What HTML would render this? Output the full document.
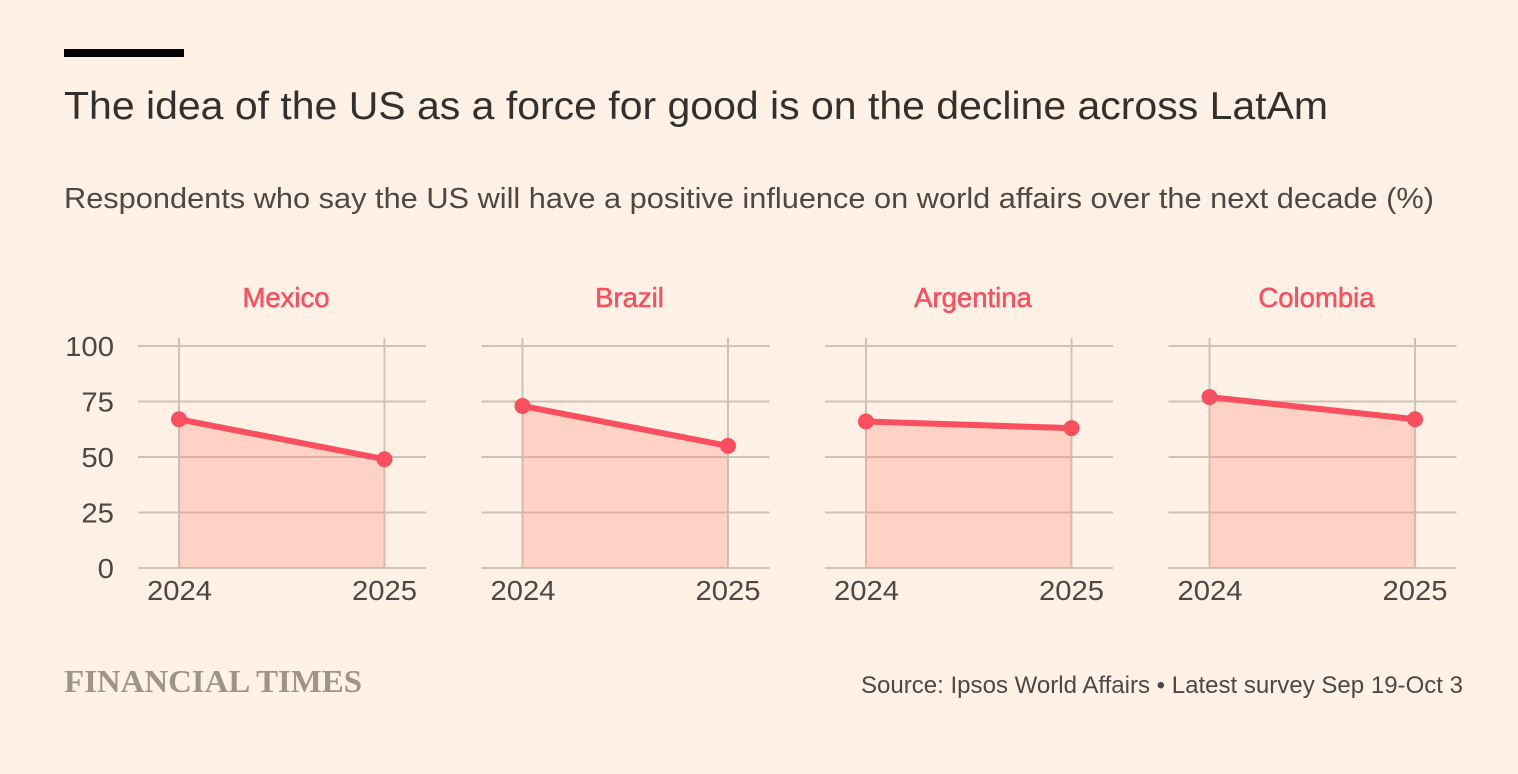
<!DOCTYPE html>
<html lang="en">
<head>
<meta charset="utf-8">
<title>The idea of the US as a force for good is on the decline across LatAm</title>
<style>
html,body{margin:0;padding:0;background:#fff1e5;width:1518px;height:774px;overflow:hidden}
svg{display:block}
text{font-family:"Liberation Sans",sans-serif}
</style>
</head>
<body>
<svg id="chart" xmlns="http://www.w3.org/2000/svg" width="1518" height="774" viewBox="0 0 1518 774">
  <rect x="0" y="0" width="1518" height="774" fill="#fff1e5"/>
  <rect x="64" y="49" width="120" height="8" fill="#000"/>
  <text x="64" y="119" font-size="39" fill="#33302e" textLength="1264" lengthAdjust="spacingAndGlyphs">The idea of the US as a force for good is on the decline across LatAm</text>
  <text x="64" y="208" font-size="29" fill="#4d4845" textLength="1370" lengthAdjust="spacingAndGlyphs">Respondents who say the US will have a positive influence on world affairs over the next decade (%)</text>
  <g id="panels"></g>
  <text x="64" y="692" font-size="31.5" font-weight="700" fill="#9d948a" textLength="298" lengthAdjust="spacingAndGlyphs" style="font-family:'Liberation Serif',serif">FINANCIAL TIMES</text>
  <text x="1463" y="693" font-size="24" fill="#4d4845" text-anchor="end" textLength="602" lengthAdjust="spacingAndGlyphs">Source: Ipsos World Affairs • Latest survey Sep 19-Oct 3</text>
</svg>
<script>
const countries = ['Mexico', 'Brazil', 'Argentina', 'Colombia'];
const years = ['2024', '2025'];
const mexicoValues = [67, 49];
const brazilValues = [73, 55];
const argentinaValues = [66, 63];
const colombiaValues = [77, 67];
const yTicks = [0, 25, 50, 75, 100];

const allSeries = [mexicoValues, brazilValues, argentinaValues, colombiaValues];
const NS = 'http://www.w3.org/2000/svg';
const root = document.getElementById('panels');
const RED = '#f94f5f';
const GRID = '#cfc3b7';
const INK = '#4d4845';

function yScale(v) { return 568 - (v - 0) / 100 * 222; }
function panelLeft(i) { return 138 + i * 343.5; }
function xScale(i, j) { return panelLeft(i) + 41 + j * 205.5; }
function make(tag, attrs, parent) {
  const el = document.createElementNS(NS, tag);
  for (const k in attrs) el.setAttribute(k, attrs[k]);
  parent.appendChild(el);
  return el;
}

countries.forEach(function (country, i) {
  const values = allSeries[i];
  const left = panelLeft(i);
  const g = make('g', {}, root);
  
  

  const head = make('text', { x: left + 148, y: 307, 'font-size': 27.5, fill: RED, 'text-anchor': 'middle', stroke: RED, 'stroke-width': 0.5 }, g);
  head.textContent = country;
  
  

  yTicks.forEach(function (t) {
    const line = make('line', { x1: left, x2: left + 288, y1: yScale(t), y2: yScale(t), stroke: GRID, 'stroke-width': 2 }, g);
    
    
    if (i === 0) {
      const label = make('text', { x: 114, y: yScale(t) + 10, 'font-size': 28, fill: INK, 'text-anchor': 'end', textLength: String(t).length * 16.3, lengthAdjust: 'spacingAndGlyphs' }, g);
      label.textContent = String(t);
      
      
    }
  });

  years.forEach(function (year, j) {
    const x = xScale(i, j);
    const line = make('line', { x1: x, x2: x, y1: 338, y2: 568, stroke: GRID, 'stroke-width': 2 }, g);
    
    
    const label = make('text', { x: x + (j === 0 ? 0.5 : 0), y: 600, 'font-size': 28, fill: INK, 'text-anchor': 'middle', textLength: 65, lengthAdjust: 'spacingAndGlyphs' }, g);
    label.textContent = year;
    
    
  });

  const pts = values.map(function (v, j) { return xScale(i, j) + ',' + yScale(v); });
  const area = make('polygon', {
    points: xScale(i, 0) + ',' + yScale(0) + ' ' + pts.join(' ') + ' ' + xScale(i, values.length - 1) + ',' + yScale(0),
    fill: '#ff8a7e', 'fill-opacity': 0.3
  }, g);
  
  

  const line = make('polyline', { points: pts.join(' '), fill: 'none', stroke: RED, 'stroke-width': 6 }, g);
  
  

  values.forEach(function (v, j) {
    const dot = make('circle', { cx: xScale(i, j), cy: yScale(v), r: 8, fill: RED }, g);
    
    
  });
});
</script>
</body>
</html>
